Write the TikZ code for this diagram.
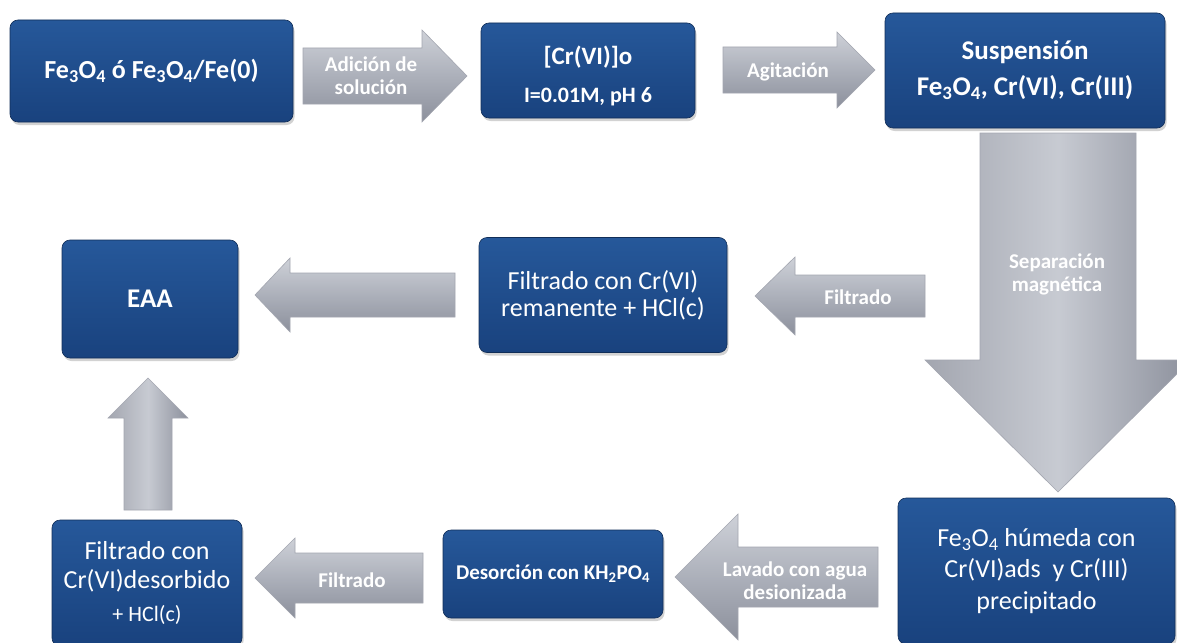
\documentclass[tikz,border=0pt]{standalone}
\usepackage{fontspec}
\setmainfont{Carlito}
\usetikzlibrary{calc,shadows}
\definecolor{azulA}{RGB}{38,88,154}
\definecolor{azulB}{RGB}{25,66,126}
\definecolor{grisA}{RGB}{206,209,216}
\definecolor{grisB}{RGB}{172,176,186}
\definecolor{grisC}{RGB}{140,144,156}
\tikzstyle{bloque}=[rectangle,rounded corners=8pt,top color=azulA,bottom color=azulB,draw=azulB!70!black,line width=0.6pt,text=white,align=center,inner sep=0pt,drop shadow={shadow xshift=1.5pt,shadow yshift=-3pt,opacity=0.35}]
\tikzstyle{flechah}=[top color=grisA,bottom color=grisC,middle color=grisB,draw=grisC!80,line width=0.6pt]
\tikzstyle{flechav}=[left color=grisC!80,right color=grisC,middle color=grisA!80!grisB,draw=grisC!80,line width=0.6pt]
\tikzstyle{etiqueta}=[text=white,align=center,font=\bfseries\fontsize{21}{23}\selectfont]
\newcommand{\subind}[1]{\textsubscript{#1}}
\newcommand{\flecha}[6]{%
  \coordinate (hb) at ($(#2)!#5!(#1)$);
  \path[#6] ($(#1)!#3!90:(#2)$) -- ($(hb)!#3!-90:(#1)$) -- ($(hb)!#4!-90:(#1)$) -- (#2)
    -- ($(hb)!#4!90:(#1)$) -- ($(hb)!#3!90:(#1)$) -- ($(#1)!#3!-90:(#2)$) -- cycle;
}
\begin{document}
\begin{tikzpicture}[x=1pt,y=-1pt]
\useasboundingbox (0,0) rectangle (1177,642);
\fill[white] (0,0) rectangle (1177,642);
\clip (0,0) rectangle (1177,642);

\node[bloque,minimum width=283pt,minimum height=102pt,font=\bfseries\fontsize{26}{30}\selectfont] (fe) at (151.5,71) {Fe\subind{3}O\subind{4} ó Fe\subind{3}O\subind{4}/Fe(0)};
\node[bloque,minimum width=214pt,minimum height=95pt,font=\bfseries\fontsize{25}{30}\selectfont] (crvi) at (588,70.5) {\rule{0pt}{30pt}[Cr(VI)]o\\[8pt]\fontsize{22}{30}\selectfont I=0.01M, pH 6};
\node[bloque,minimum width=280pt,minimum height=115pt,font=\bfseries\fontsize{27}{36}\selectfont] (susp) at (1025,70.5) {Suspensión\\Fe\subind{3}O\subind{4}, Cr(VI), Cr(III)};
\node[bloque,minimum width=176pt,minimum height=118pt,font=\bfseries\fontsize{27}{30}\selectfont] (eaa) at (150,299) {EAA};
\node[bloque,minimum width=248pt,minimum height=115pt,font=\fontsize{26}{27}\selectfont] (rema) at (603,295) {Filtrado con Cr(VI)\\remanente + HCl(c)};
\node[bloque,minimum width=277pt,minimum height=146pt,font=\fontsize{26}{31.5}\selectfont] (hume) at (1036.5,571) {Fe\subind{3}O\subind{4} húmeda con\\Cr(VI)ads\ \ y Cr(III)\\precipitado};
\node[bloque,minimum width=220pt,minimum height=88pt,font=\bfseries\fontsize{21}{24}\selectfont] (deso) at (553,574) {Desorción con KH\subind{2}PO\subind{4}};
\node[bloque,minimum width=190pt,minimum height=126pt,font=\fontsize{26}{29}\selectfont] (desb) at (147,583) {Filtrado con\\Cr(VI)desorbido\\[4pt]\fontsize{22}{29}\selectfont + HCl(c)};

\coordinate (adicT) at (303,76);   \coordinate (adicP) at (467,76);
\coordinate (agitT) at (723,70);   \coordinate (agitP) at (875,70);
\coordinate (sepaT) at (1058,133); \coordinate (sepaP) at (1058,492);
\coordinate (fil1T) at (925,296);  \coordinate (fil1P) at (755,296);
\coordinate (eaaT) at (455,295);   \coordinate (eaaP) at (255,295);
\coordinate (subeT) at (148,510);  \coordinate (subeP) at (148,378);
\coordinate (fil2T) at (423,578);  \coordinate (fil2P) at (255,578);
\coordinate (lavaT) at (878,577);  \coordinate (lavaP) at (675,577);

\flecha{adicT}{adicP}{28pt}{46pt}{45pt}{flechah}
\flecha{agitT}{agitP}{23pt}{38pt}{38pt}{flechah}
\flecha{sepaT}{sepaP}{78pt}{133pt}{132pt}{flechav}
\flecha{fil1T}{fil1P}{21pt}{39pt}{40pt}{flechah}
\flecha{eaaT}{eaaP}{22pt}{37pt}{35pt}{flechah}
\flecha{subeT}{subeP}{24pt}{40pt}{40pt}{flechav}
\flecha{fil2T}{fil2P}{25pt}{40pt}{40pt}{flechah}
\flecha{lavaT}{lavaP}{30pt}{63pt}{63pt}{flechah}

\node[etiqueta] (adicL) at (371,76) {Adición de\\solución};
\node[etiqueta] (agitL) at (788,72) {Agitación};
\node[etiqueta] (sepaL) at (1057,274) {Separación\\magnética};
\node[etiqueta] (fil1L) at (858,297) {Filtrado};
\node[etiqueta] (fil2L) at (352,580) {Filtrado};
\node[etiqueta] (lavaL) at (795,581) {Lavado con agua\\desionizada};
\end{tikzpicture}
\end{document}
